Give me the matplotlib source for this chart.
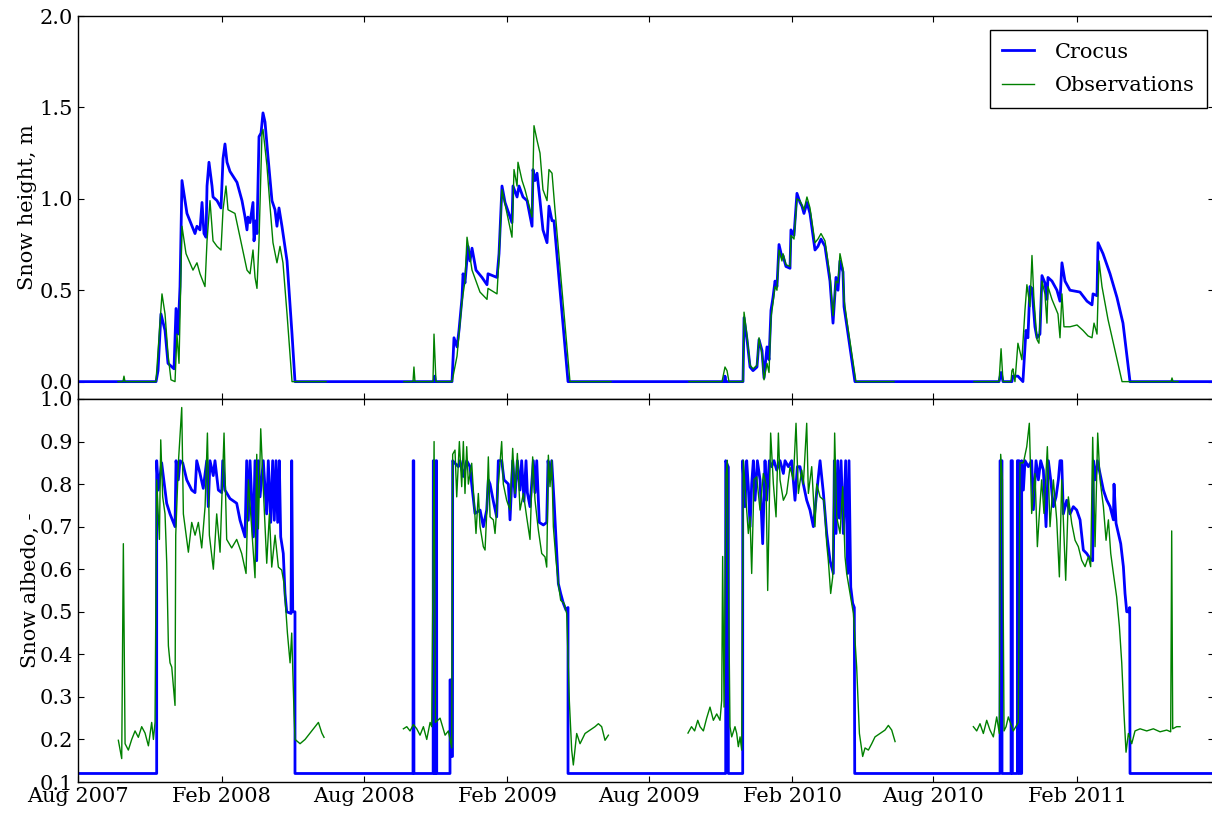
#!/usr/bin/env python3
"""Crocus snow model vs observations: snow height and snow albedo, 2007-2011."""

import numpy as np
import pandas as pd
import matplotlib

matplotlib.use("Agg")
import matplotlib.pyplot as plt
import matplotlib.dates as mdates
from matplotlib.ticker import FormatStrFormatter, MultipleLocator

nan = np.nan

# day offsets are counted from this date
START = pd.Timestamp("2007-08-01")
X_END_DAY = 1455.4

# (day, snow height m) -- Crocus simulation
CROCUS_HEIGHT = [
    (0, 0), (100, 0), (102.5, 0.06), (106.3, 0.37), (111.5, 0.28), (115.3, 0.10), (123, 0.07),
    (125.6, 0.40), (128.1, 0.26), (130.7, 0.52), (133.2, 1.10), (139.6, 0.92), (149.9, 0.81),
    (152.4, 0.85), (156.3, 0.83), (158.9, 0.98), (161.4, 0.81), (164, 0.79), (165.3, 1.07),
    (167.8, 1.20), (171.7, 1.07), (173, 1.01), (178.1, 0.99), (183.2, 0.95), (185.8, 1.22),
    (188.3, 1.30), (190.9, 1.20), (194.7, 1.15), (203.7, 1.09), (210.1, 0.99), (214, 0.90),
    (216.5, 0.83), (217.8, 0.90), (220.4, 0.87), (224.2, 0.98), (225.5, 0.77), (228.1, 0.88),
    (229.3, 0.81), (231.9, 1.34), (234.5, 1.36), (237, 1.47), (239.6, 1.42), (243.4, 1.23),
    (248.5, 0.99), (252.4, 0.94), (254.9, 0.85), (257.5, 0.95), (261.3, 0.85), (267.8, 0.66),
    (274.2, 0.26), (278, 0),
    (456, 0), (457, 0.03), (458, 0),
    (479.2, 0), (481.7, 0.24), (485.6, 0.19), (488.1, 0.28), (492, 0.46), (493.3, 0.59),
    (495.8, 0.54), (499.7, 0.74), (502.2, 0.66), (504.8, 0.73), (509.9, 0.61), (517.6, 0.57),
    (524, 0.53), (525.3, 0.59), (536.8, 0.57), (539.4, 0.70), (543.2, 1.07), (547.1, 0.98),
    (556, 0.87), (557.3, 1.07), (562.5, 1.01), (565, 1.07), (570.1, 1.01), (575.3, 0.99),
    (581.7, 0.85), (582.9, 1.16), (585.5, 1.10), (588.1, 1.14), (591.9, 0.99), (595.7, 0.83),
    (600.9, 0.76), (603.4, 0.96), (607.3, 0.88), (609.8, 0.88), (627.8, 0),
    (828, 0), (828.9, 0.03), (830, 0),
    (852, 0), (853.3, 0.35), (857.1, 0.23), (861, 0.08), (864.8, 0.06), (869.9, 0.08),
    (872.5, 0.23), (876.3, 0.17), (878.9, 0.02), (882.7, 0.19), (885.3, 0.12), (887.8, 0.39),
    (890.4, 0.46), (893, 0.55), (895.5, 0.52), (898.1, 0.75), (901.9, 0.68), (903.2, 0.69),
    (907, 0.63), (912.2, 0.62), (913.4, 0.83), (917.3, 0.80), (921.1, 1.03), (925, 0.98),
    (927.5, 0.96), (930.1, 0.92), (933.9, 0.98), (937.8, 0.92), (944.2, 0.72), (948, 0.74),
    (951.9, 0.78), (957, 0.74), (963.4, 0.55), (967.3, 0.32), (971.1, 0.57), (973.7, 0.50),
    (976.2, 0.66), (980.1, 0.60), (981.4, 0.41), (985.2, 0.30), (995.4, 0),
    (1180, 0), (1182.6, 0.05), (1185.1, 0), (1196.5, 0), (1197.8, 0.03), (1204.2, 0.03),
    (1210.6, 0), (1214.5, 0.28), (1217, 0.24), (1219.6, 0.52), (1222.2, 0.51), (1226, 0.30),
    (1228.6, 0.24), (1232.4, 0.26), (1235, 0.58), (1238.8, 0.54), (1241.4, 0.45),
    (1242.7, 0.57), (1247.8, 0.55), (1254.2, 0.50), (1258.1, 0.44), (1260.6, 0.65),
    (1264.5, 0.55), (1270.9, 0.50), (1283.7, 0.49), (1292.7, 0.44), (1299.1, 0.42),
    (1300.4, 0.48), (1305.5, 0.47), (1306.8, 0.76), (1313.2, 0.70), (1322.2, 0.59),
    (1331.1, 0.46), (1338.8, 0.32), (1347.8, 0), (1455.4, 0),
]

# (day, snow height m) -- observations, nan marks gaps
OBS_HEIGHT = [
    (51.2, 0), (57.6, 0), (58.9, 0.03), (60.2, 0), (99.9, 0), (107.6, 0.48), (111.5, 0.37),
    (115.3, 0.15), (119.1, 0.01), (124.3, 0), (126.8, 0.26), (129.4, 0.10), (133.2, 0.85),
    (138.4, 0.70), (147.3, 0.61), (152.4, 0.65), (156.3, 0.59), (162.7, 0.52), (165.3, 0.77),
    (169.1, 0.99), (173, 0.77), (178.1, 0.74), (183.2, 0.72), (185.8, 0.94), (189.6, 1.07),
    (192.2, 0.94), (201.1, 0.92), (216.5, 0.61), (220.4, 0.59), (224.2, 0.72), (226.8, 0.57),
    (229.3, 0.51), (231.9, 0.77), (235.7, 1.36), (237, 1.38), (242.1, 1.18), (246, 0.96),
    (249.8, 0.76), (254.9, 0.65), (258.8, 0.74), (262.6, 0.65), (267.8, 0.37), (274.2, 0),
    (317.7, 0), (318, nan),
    (417.6, 0), (429.2, 0), (430.4, 0.08), (431.7, 0), (454.8, 0), (456.1, 0.26), (458.6, 0),
    (479.2, 0), (485.6, 0.14), (488.1, 0.26), (492, 0.44), (495.8, 0.55), (498.4, 0.79),
    (504.8, 0.61), (515, 0.49), (524, 0.45), (525.3, 0.51), (536.8, 0.48), (539.4, 0.68),
    (543.2, 1.05), (556, 0.79), (558.6, 1.16), (562.5, 1.07), (563.7, 1.20), (568.9, 1.10),
    (572.7, 1.05), (581.7, 0.90), (584.2, 1.40), (588.1, 1.32), (591.9, 1.25), (595.7, 1.05),
    (600.9, 0.99), (603.4, 1.16), (607.3, 1.14), (611.1, 0.94), (630.3, 0), (682.8, 0),
    (683, nan),
    (782.8, 0), (825.1, 0), (828.9, 0.08), (831.5, 0.06), (834, 0), (852, 0), (853.3, 0.38),
    (857.1, 0.25), (861, 0.09), (864.8, 0.07), (869.9, 0.09), (872.5, 0.24), (876.3, 0.15),
    (878.9, 0.01), (882.7, 0.10), (885.3, 0.05), (887.8, 0.35), (890.4, 0.43), (893, 0.52),
    (895.5, 0.50), (898.1, 0.72), (901.9, 0.66), (903.2, 0.70), (907, 0.64), (912.2, 0.63),
    (913.4, 0.80), (917.3, 0.78), (921.1, 1.00), (925, 0.99), (930.1, 0.94), (933.9, 1.01),
    (937.8, 0.95), (944.2, 0.76), (948, 0.78), (951.9, 0.81), (957, 0.77), (963.4, 0.58),
    (967.3, 0.36), (971.1, 0.55), (973.7, 0.54), (976.2, 0.70), (980.1, 0.62), (981.4, 0.45),
    (985.2, 0.33), (996.7, 0), (1045.4, 0), (1046, nan),
    (1147.9, 0), (1180, 0), (1182.6, 0.18), (1185.1, 0), (1195.3, 0), (1196.5, 0.06),
    (1197.8, 0.07), (1200.4, 0), (1204.2, 0.21), (1209.3, 0.12), (1213.2, 0.39),
    (1215.7, 0.53), (1219.6, 0.41), (1222.2, 0.69), (1224.7, 0.45), (1228.6, 0.23),
    (1231.1, 0.21), (1235, 0.55), (1238.8, 0.48), (1241.4, 0.32), (1242.7, 0.52),
    (1247.8, 0.45), (1255.5, 0.37), (1258.1, 0.24), (1260.6, 0.48), (1263.2, 0.30),
    (1270.9, 0.30), (1279.9, 0.31), (1287.6, 0.28), (1294, 0.25), (1299.1, 0.24),
    (1301.7, 0.32), (1305.5, 0.26), (1308.1, 0.66), (1311.9, 0.52), (1319.6, 0.34),
    (1328.6, 0.17), (1337.6, 0), (1400.3, 0), (1401.6, 0.02), (1402.9, 0), (1409.3, 0),
]

# (day, snow albedo) -- Crocus simulation
CROCUS_ALBEDO = [
    (0, 0.12), (100.8, 0.12), (100.8, 0.855), (102.9, 0.786), (107.2, 0.85), (113.6, 0.755),
    (117.9, 0.73), (124.3, 0.70), (125.6, 0.855), (128.5, 0.81), (130.7, 0.855), (134.1, 0.85),
    (139.3, 0.81), (145.7, 0.786), (149.9, 0.78), (152.1, 0.855), (156.3, 0.825), (160.5, 0.79),
    (164.9, 0.855), (166.9, 0.747), (169.1, 0.855), (173.3, 0.82), (175.5, 0.855),
    (179.8, 0.786), (184.1, 0.78), (185.4, 0.855), (188.3, 0.786), (194.7, 0.766),
    (203.3, 0.755), (207.6, 0.715), (214, 0.676), (216.1, 0.855), (218.2, 0.715),
    (220.4, 0.855), (224.6, 0.676), (226.8, 0.855), (228.9, 0.62), (231, 0.855), (233.2, 0.77),
    (237.4, 0.855), (241.7, 0.73), (243.8, 0.855), (246.9, 0.71), (249.4, 0.855),
    (251.5, 0.715), (253.7, 0.855), (255.8, 0.71), (257.9, 0.855), (259.7, 0.676),
    (263, 0.637), (265.2, 0.543), (267.4, 0.50), (272.9, 0.496), (273.8, 0.855), (275.1, 0.50),
    (278, 0.50), (278, 0.12),
    (429.2, 0.12), (429.4, 0.855), (430.2, 0.855), (430.4, 0.12),
    (455, 0.12), (455.2, 0.855), (456, 0.855), (456.2, 0.12),
    (458.4, 0.12), (458.6, 0.855), (459.4, 0.855), (459.6, 0.12),
    (476.6, 0.12), (476.6, 0.34), (478.5, 0.34), (478.5, 0.16), (479.8, 0.16), (480, 0.855),
    (483, 0.849), (487.3, 0.841), (489.4, 0.855), (493.7, 0.818), (498, 0.855), (502.2, 0.841),
    (504.4, 0.80), (508.6, 0.731), (515.1, 0.739), (519.3, 0.70), (523.6, 0.739), (525.7, 0.81),
    (527.9, 0.80), (532.1, 0.76), (536.4, 0.723), (538.5, 0.855), (542.8, 0.855), (545.8, 0.81),
    (551.4, 0.80), (553.5, 0.716), (556.9, 0.855), (559.9, 0.77), (562.9, 0.855),
    (566.3, 0.786), (568.4, 0.855), (571.4, 0.76), (574, 0.855), (575.7, 0.78), (579.1, 0.747),
    (583.4, 0.855), (585.5, 0.78), (587.7, 0.855), (591, 0.71), (596.2, 0.704), (600.5, 0.71),
    (602.2, 0.855), (604.7, 0.81), (606.9, 0.855), (609.9, 0.76), (612.4, 0.67),
    (615.4, 0.566), (618.4, 0.543), (621.8, 0.52), (625.2, 0.504), (627.8, 0.51),
    (627.8, 0.12),
    (829.8, 0.12), (829.8, 0.855), (833.2, 0.84), (833.2, 0.12),
    (851.6, 0.12), (851.6, 0.855), (854.6, 0.747), (856.7, 0.855), (858.8, 0.794), (861, 0.70),
    (863.1, 0.80), (865.2, 0.855), (867.4, 0.762), (870.4, 0.855), (873.8, 0.81), (877.2, 0.66),
    (880.2, 0.855), (882.3, 0.762), (885.7, 0.855), (888.7, 0.841), (891.7, 0.855),
    (895.1, 0.833), (899.4, 0.855), (903.7, 0.825), (905.8, 0.855), (910.1, 0.841),
    (914.3, 0.855), (918.6, 0.762), (921.6, 0.841), (925, 0.841), (929.3, 0.80), (933.6, 0.762),
    (937.8, 0.739), (942.1, 0.70), (946.4, 0.78), (950.7, 0.855), (954.9, 0.78),
    (959.2, 0.684), (963.5, 0.62), (967.7, 0.59), (969, 0.855), (971.2, 0.684), (973.3, 0.855),
    (975.4, 0.72), (977.6, 0.855), (980.5, 0.684), (983.5, 0.855), (986.1, 0.59),
    (987.8, 0.855), (990, 0.558), (992.5, 0.52), (994.6, 0.51), (995.1, 0.12),
    (1181.3, 0.12), (1181.3, 0.855), (1183.8, 0.855), (1183.8, 0.12),
    (1195.4, 0.12), (1195.4, 0.855), (1197.1, 0.855), (1197.1, 0.12),
    (1203.5, 0.12), (1203.5, 0.855), (1205.6, 0.855), (1205.6, 0.12),
    (1209, 0.12), (1209, 0.855), (1211.2, 0.786), (1213.3, 0.855), (1217.6, 0.841),
    (1221.8, 0.855), (1224, 0.74), (1227.4, 0.855), (1230.4, 0.81), (1233.4, 0.855),
    (1236.8, 0.833), (1240.2, 0.70), (1243.2, 0.855), (1246.2, 0.81), (1249.6, 0.747),
    (1253, 0.77), (1256, 0.81), (1258.1, 0.855), (1260.3, 0.855), (1262.4, 0.73),
    (1266.7, 0.762), (1271, 0.73), (1275.2, 0.747), (1279.5, 0.739), (1283.8, 0.716),
    (1288, 0.645), (1292.3, 0.637), (1296.6, 0.625), (1300, 0.62), (1300.8, 0.855),
    (1303, 0.81), (1306, 0.855), (1309.4, 0.825), (1313.7, 0.786), (1317.9, 0.763),
    (1322.2, 0.747), (1326.5, 0.716), (1327.3, 0.80), (1329.9, 0.708), (1332.9, 0.684),
    (1335.9, 0.66), (1339.3, 0.606), (1341.4, 0.543), (1343.6, 0.50), (1347, 0.50),
    (1347.4, 0.51), (1347.8, 0.12), (1455.4, 0.12),
]

# (day, snow albedo) -- observations, nan marks gaps
OBS_ALBEDO = [
    (51.7, 0.198), (56, 0.155), (58.1, 0.66), (60.3, 0.19), (64.5, 0.175), (68.8, 0.20),
    (73.1, 0.22), (77.3, 0.205), (81.6, 0.23), (85.9, 0.215), (90.2, 0.185), (94.4, 0.24),
    (96.6, 0.20), (98.7, 0.24), (100.8, 0.81), (104.3, 0.67), (106, 0.904), (108.5, 0.77),
    (111.5, 0.73), (113.7, 0.614), (115.8, 0.42), (117.9, 0.38), (120.1, 0.37), (124.3, 0.28),
    (125.2, 0.68), (128.6, 0.85), (132.9, 0.98), (135, 0.73), (139.3, 0.67), (141.4, 0.64),
    (145.7, 0.71), (150, 0.68), (154.2, 0.71), (158.5, 0.65), (162.8, 0.747), (165.8, 0.92),
    (168.3, 0.68), (173.4, 0.60), (177.7, 0.73), (182, 0.64), (187.1, 0.92), (190.5, 0.67),
    (196.9, 0.65), (203.3, 0.67), (209.7, 0.637), (215.3, 0.59), (218.3, 0.81), (222.5, 0.695),
    (226.8, 0.58), (229, 0.87), (231.1, 0.695), (234.1, 0.93), (237.5, 0.786), (241.8, 0.614),
    (245.2, 0.73), (248.2, 0.605), (252.5, 0.68), (256.7, 0.605), (261, 0.598), (264, 0.566),
    (268.3, 0.45), (271.7, 0.38), (273.8, 0.45), (276.8, 0.26), (278.1, 0.20), (284.5, 0.19),
    (290.9, 0.20), (297.3, 0.215), (303.8, 0.23), (308, 0.24), (312.4, 0.215), (315.2, 0.205),
    (316, nan),
    (416.9, 0.225), (421.2, 0.23), (425.4, 0.22), (429.7, 0.235), (434, 0.225), (438.2, 0.21),
    (442.5, 0.23), (446.8, 0.20), (451.1, 0.24), (453.2, 0.23), (456.2, 0.90), (457.9, 0.24),
    (463.9, 0.25), (470.3, 0.21), (474.5, 0.22), (478.8, 0.18), (480, 0.87), (483, 0.88),
    (485.2, 0.77), (488.6, 0.90), (491.6, 0.794), (493.7, 0.90), (495.8, 0.778), (498, 0.888),
    (500.1, 0.80), (504.4, 0.849), (506.5, 0.786), (509.9, 0.684), (512.9, 0.778), (515.1, 0.70),
    (519.3, 0.653), (521.5, 0.645), (523.6, 0.731), (525.7, 0.864), (527.9, 0.723),
    (532.1, 0.716), (534.3, 0.684), (538.5, 0.80), (542.8, 0.90), (544.9, 0.80), (549.2, 0.762),
    (553.5, 0.739), (556.9, 0.884), (559.9, 0.778), (562.9, 0.872), (566.3, 0.739),
    (570.6, 0.778), (574.8, 0.723), (579.1, 0.67), (582.5, 0.864), (585.5, 0.762),
    (589.8, 0.692), (594.1, 0.637), (598.3, 0.629), (600.5, 0.605), (602.6, 0.868),
    (604.7, 0.794), (606.9, 0.856), (609, 0.70), (612.4, 0.621), (615.4, 0.566), (618.4, 0.527),
    (622.7, 0.52), (626.1, 0.496), (629.5, 0.29), (632.5, 0.175), (634.6, 0.14), (638.9, 0.214),
    (643.2, 0.19), (649.6, 0.214), (656, 0.222), (662.4, 0.23), (666.7, 0.237), (670.9, 0.23),
    (675.2, 0.198), (679.5, 0.21), (680, nan),
    (781.5, 0.215), (786, 0.23), (790, 0.22), (794, 0.245), (796.9, 0.23), (801.2, 0.22),
    (805.4, 0.25), (809.7, 0.276), (814, 0.245), (818.3, 0.26), (822.5, 0.245), (824.7, 0.292),
    (825.9, 0.63), (827.7, 0.276), (830.2, 0.82), (831.9, 0.856), (833.6, 0.527), (835.3, 0.23),
    (837.5, 0.206), (841.7, 0.23), (843.9, 0.214), (846, 0.183), (848.2, 0.206), (850.3, 0.175),
    (852.4, 0.856), (855.8, 0.762), (858.8, 0.684), (861, 0.723), (863.1, 0.59), (866.1, 0.81),
    (869.5, 0.817), (873.8, 0.739), (878, 0.825), (881.5, 0.80), (883.6, 0.55), (885.7, 0.762),
    (887.4, 0.92), (890.9, 0.80), (894.3, 0.723), (897.3, 0.92), (899.4, 0.81), (903.7, 0.762),
    (907.9, 0.778), (912.2, 0.84), (916.5, 0.81), (919.9, 0.943), (922.9, 0.778),
    (927.2, 0.833), (929.3, 0.80), (933.6, 0.943), (935.7, 0.778), (940, 0.841), (944.2, 0.70),
    (946.4, 0.80), (950.7, 0.77), (955.8, 0.762), (959.2, 0.66), (961.3, 0.62), (964.3, 0.543),
    (966.9, 0.582), (969.4, 0.92), (972, 0.723), (976.3, 0.684), (979.7, 0.794), (982.7, 0.629),
    (984.8, 0.59), (989.1, 0.543), (993.4, 0.496), (997.6, 0.37), (1001.1, 0.214),
    (1005.3, 0.16), (1008.3, 0.18), (1012.6, 0.175), (1016.9, 0.19), (1021.1, 0.206),
    (1027.5, 0.214), (1033.9, 0.222), (1038.2, 0.233), (1042.5, 0.222), (1046.8, 0.195),
    (1047, nan),
    (1147.1, 0.23), (1151.4, 0.22), (1155.6, 0.237), (1159.9, 0.214), (1164.2, 0.245),
    (1168.4, 0.222), (1172.7, 0.206), (1177, 0.253), (1180.4, 0.214), (1182.1, 0.87),
    (1184.3, 0.81), (1186.4, 0.22), (1189, 0.23), (1191.9, 0.253), (1198.3, 0.22),
    (1204.7, 0.24), (1206.9, 0.85), (1211.2, 0.85), (1215.5, 0.888), (1218.8, 0.943),
    (1221.8, 0.731), (1226.1, 0.825), (1229.1, 0.653), (1231.7, 0.731), (1234.6, 0.81),
    (1237.6, 0.731), (1241.9, 0.888), (1245.3, 0.70), (1249.6, 0.81), (1253.9, 0.716),
    (1257.3, 0.582), (1260.3, 0.81), (1262.4, 0.716), (1265.4, 0.574), (1268.8, 0.77),
    (1273.1, 0.708), (1277.4, 0.668), (1281.6, 0.653), (1285.9, 0.621), (1290.2, 0.606),
    (1294.4, 0.629), (1297.4, 0.606), (1300, 0.91), (1303, 0.653), (1306.4, 0.92),
    (1309.4, 0.81), (1313.7, 0.747), (1317.1, 0.668), (1320.1, 0.716), (1323.1, 0.637),
    (1326.5, 0.59), (1330.7, 0.535), (1334.2, 0.465), (1337.2, 0.38), (1340.1, 0.26),
    (1342.7, 0.17), (1345.7, 0.214), (1350, 0.19), (1354.2, 0.22), (1360.7, 0.225),
    (1369.2, 0.22), (1377.7, 0.225), (1386.3, 0.218), (1394.8, 0.222), (1399.9, 0.218),
    (1401.2, 0.69), (1402.5, 0.225), (1407.6, 0.23), (1411.9, 0.23),
]


def to_xy(points):
    """Turn (day, value) pairs into datetimes and a float array."""
    days, vals = zip(*points)
    dates = (START + pd.to_timedelta(np.asarray(days, dtype=float), unit="D")).to_numpy()
    return dates, np.asarray(vals, dtype=float)


def main() -> None:
    plt.rcParams["font.family"] = ["DejaVu Serif"]
    plt.rcParams["font.size"] = 15

    fig = plt.figure(figsize=(12.12, 8.18), dpi=100)
    left = 78 / 1212
    width = 1136 / 1212
    ax1 = fig.add_axes([left, 1 - 399 / 818, width, (399 - 16) / 818])
    ax2 = fig.add_axes([left, 1 - 782 / 818, width, (782 - 399) / 818], sharex=ax1)

    # Snow height
    x, y = to_xy(CROCUS_HEIGHT)
    ax1.plot(x, y, color="#0000ff", linewidth=2, label="Crocus")
    x, y = to_xy(OBS_HEIGHT)
    ax1.plot(x, y, color="#008000", linewidth=1, label="Observations")
    ax1.set_ylim(-0.095, 2.0)
    ax1.yaxis.set_major_locator(MultipleLocator(0.5))
    ax1.yaxis.set_major_formatter(FormatStrFormatter("%.1f"))
    ax1.set_ylabel("Snow height, m", labelpad=2)
    ax1.legend(loc="upper right", bbox_to_anchor=(0.9938, 0.9634), borderaxespad=0,
               fancybox=False, edgecolor="black", framealpha=1, fontsize=15,
               labelspacing=0.7, borderpad=0.6, handlelength=1.5, handletextpad=1.0)
    ax1.tick_params(labelbottom=False)

    # Snow albedo
    x, y = to_xy(CROCUS_ALBEDO)
    ax2.plot(x, y, color="#0000ff", linewidth=2)
    x, y = to_xy(OBS_ALBEDO)
    ax2.plot(x, y, color="#008000", linewidth=1)
    ax2.set_ylim(0.1, 1.0)
    ax2.yaxis.set_major_locator(MultipleLocator(0.1))
    ax2.yaxis.set_major_formatter(FormatStrFormatter("%.1f"))
    ax2.set_ylabel("Snow albedo, -", labelpad=0)

    ax2.set_xlim(START.to_pydatetime(), (START + pd.Timedelta(days=X_END_DAY)).to_pydatetime())
    ax2.xaxis.set_major_locator(mdates.MonthLocator(bymonth=[2, 8]))
    ax2.xaxis.set_major_formatter(mdates.DateFormatter("%b %Y"))

    for ax in (ax1, ax2):
        ax.tick_params(direction="in", top=True, right=True, length=4, width=0.8)
        for spine in ax.spines.values():
            spine.set_linewidth(1.0)

    fig.savefig("out.png", dpi=100)
    plt.close(fig)


if __name__ == "__main__":
    main()
